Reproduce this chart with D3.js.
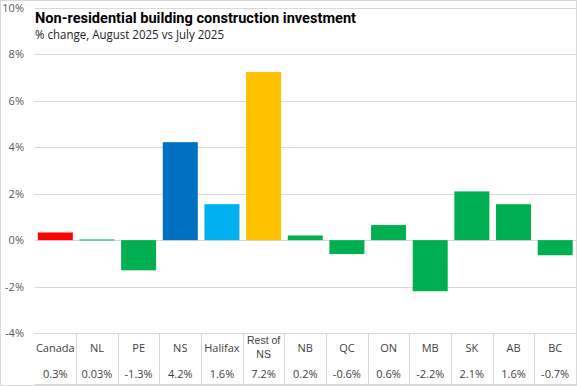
<!DOCTYPE html>
<html><head><meta charset="utf-8">
<script src="https://cdn.jsdelivr.net/npm/d3@7"></script>
<style>body{margin:0;background:#fff}svg{display:block}text{font-family:"Liberation Sans",Arial,sans-serif}</style>
</head><body>
<svg id="c" width="577" height="386"></svg>
<script>
const categories = ["Canada","NL","PE","NS","Halifax","Rest of NS","NB","QC","ON","MB","SK","AB","BC"];
const values = [0.33,0.03,-1.3,4.22,1.55,7.24,0.2,-0.6,0.65,-2.2,2.1,1.55,-0.65];
const valueLabels = ["0.3%","0.03%","-1.3%","4.2%","1.6%","7.2%","0.2%","-0.6%","0.6%","-2.2%","2.1%","1.6%","-0.7%"];
const colors = ["#FF0000","#00B050","#00B050","#0070C0","#00B0F0","#FFC000","#00B050","#00B050","#00B050","#00B050","#00B050","#00B050","#00B050"];
const yTicks = [-4,-2,0,2,4,6,8,10];

const svg = d3.select("#c");
const pL = 34.5, pR = 576, pT = 8, pB = 333;
const x = d3.scaleBand().domain(categories).range([pL, pR]).paddingInner(0.16).paddingOuter(0.08);
const y = d3.scaleLinear().domain([-4, 10]).range([pB, pT]);
const step = x.step();

svg.append("rect").attr("x",0.5).attr("y",0.5).attr("width",576).attr("height",385)
  .attr("fill","#fff").attr("stroke","#d9d9d9");

// gridlines
svg.append("g").selectAll("line").data(yTicks).join("line")
  .attr("x1", pL).attr("x2", pR)
  .attr("y1", d => Math.round(y(d)) + 0.5).attr("y2", d => Math.round(y(d)) + 0.5)
  .attr("stroke", "#d9d9d9").attr("stroke-width", 1);

// y labels
const yAxis = d3.axisLeft(y).tickValues(yTicks).tickFormat(d => d + "%").tickSize(0).tickPadding(0);
const ga = svg.append("g").attr("transform", `translate(24,0)`).call(yAxis);
ga.select(".domain").remove();
ga.selectAll("text").attr("fill","#595959").style("font-size","11px").style("font-family","'Open Sans',sans-serif");

// bars
svg.append("g").selectAll("rect").data(categories).join("rect")
  .attr("x", d => x(d))
  .attr("width", x.bandwidth())
  .attr("y", (d,i) => y(Math.max(0, values[i])))
  .attr("height", (d,i) => Math.max(1, Math.abs(y(values[i]) - y(0))))
  .attr("fill", (d,i) => colors[i]);

// title
svg.append("text").attr("x", 35).attr("y", 23).text("Non-residential building construction investment")
  .attr("fill","#000").style("font-size","15px").style("font-weight","bold")
  .style("font-family","Roboto, sans-serif")
  .attr("textLength", 321).attr("lengthAdjust","spacingAndGlyphs");
svg.append("text").attr("x", 35).attr("y", 39).text("% change, August 2025 vs July 2025")
  .attr("fill","#222").style("font-size","12.5px")
  .style("font-family","'Open Sans',sans-serif")
  .attr("textLength", 189).attr("lengthAdjust","spacingAndGlyphs");

// table separators
const seps = categories.map((d,i) => pL + step*(i+1));
svg.append("g").selectAll("line").data(seps).join("line")
  .attr("x1", d => Math.round(d)+0.5).attr("x2", d => Math.round(d)+0.5)
  .attr("y1", pB).attr("y2", 384)
  .attr("stroke", "#d9d9d9");
svg.append("line").attr("x1", pL).attr("x2", pR).attr("y1", 384.5).attr("y2", 384.5).attr("stroke","#d9d9d9");

// category labels
const tb = svg.append("g");
const tf = "'Open Sans',sans-serif";
categories.forEach((c,i) => {
  const cx = pL + step*(i+0.5);
  if (c === "Rest of NS") {
    tb.append("text").attr("x", cx).attr("y", 344).attr("text-anchor","middle").text("Rest of")
      .attr("fill","#404040").style("font-size","10.5px").style("font-family","'Liberation Sans',sans-serif");
    tb.append("text").attr("x", cx).attr("y", 358).attr("text-anchor","middle").text("NS")
      .attr("fill","#404040").style("font-size","10.5px").style("font-family","'Liberation Sans',sans-serif");
  } else {
    tb.append("text").attr("x", cx).attr("y", 352).attr("text-anchor","middle").text(c)
      .attr("fill","#404040").style("font-size","11px").style("font-family",tf);
  }
  tb.append("text").attr("x", cx).attr("y", 378).attr("text-anchor","middle").text(valueLabels[i])
    .attr("fill","#404040").style("font-size","11px").style("font-family",tf);
});
</script>
</body></html>
